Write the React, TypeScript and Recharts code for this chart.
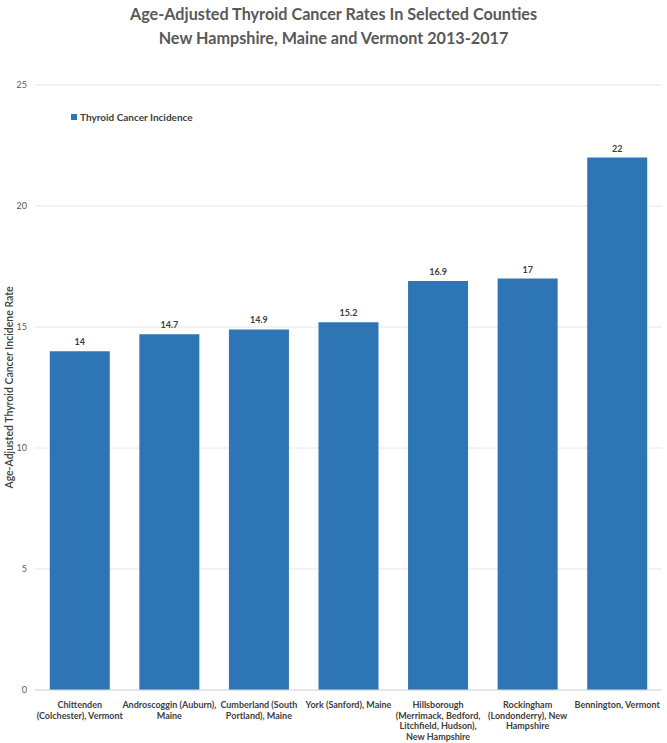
import { BarChart, Bar, XAxis, YAxis, CartesianGrid, LabelList, Legend } from "recharts";

const counties = [
  "Chittenden (Colchester), Vermont",
  "Androscoggin (Auburn), Maine",
  "Cumberland (South Portland), Maine",
  "York (Sanford), Maine",
  "Hillsborough (Merrimack, Bedford, Litchfield, Hudson), New Hampshire",
  "Rockingham (Londonderry), New Hampshire",
  "Bennington, Vermont",
];
const incidence = [14, 14.7, 14.9, 15.2, 16.9, 17, 22];
const yTicks = [0, 5, 10, 15, 20, 25];

const titleLines = [
  "Age-Adjusted Thyroid Cancer Rates In Selected Counties",
  "New Hampshire, Maine and Vermont 2013-2017",
];
const seriesName = "Thyroid Cancer Incidence";
const yLabel = "Age-Adjusted Thyroid Cancer Incidene Rate";

const data = counties.map((name, i) => ({ name, value: incidence[i] }));

const FONT = "Lato, 'Open Sans', sans-serif";
const BAR = "#2E75B6";

// rough word wrap by character count, the labels are short enough for that
function wrap(text: string, max = 22): string[] {
  const lines: string[] = [];
  let cur = "";
  for (const w of text.split(" ")) {
    const next = cur ? cur + " " + w : w;
    if (next.length > max && cur) {
      lines.push(cur);
      cur = w;
    } else {
      cur = next;
    }
  }
  if (cur) lines.push(cur);
  return lines;
}

function CountyTick({ x, y, payload }: any) {
  const lines = wrap(String(payload.value));
  return (
    <text x={x} y={y + 10} textAnchor="middle" fontSize={9} fontWeight="bold" fill="#404040" fontFamily={FONT}>
      {lines.map((l, i) => (
        <tspan key={i} x={x} dy={i === 0 ? 0 : 10.5}>
          {l}
        </tspan>
      ))}
    </text>
  );
}

function LegendBox() {
  return (
    <div style={{ display: "flex", alignItems: "center", fontFamily: FONT, fontSize: 10, fontWeight: "bold", color: "#404040" }}>
      <span style={{ display: "inline-block", width: 6, height: 6, background: BAR, marginRight: 3 }} />
      {seriesName}
    </div>
  );
}

export default function App() {
  return (
    <div style={{ position: "absolute", left: 0, top: 0, width: 667, height: 743, background: "#fff" }}>
      <div
        style={{
          position: "absolute",
          top: 2,
          left: 0,
          width: 667,
          textAlign: "center",
          fontFamily: FONT,
          fontWeight: "bold",
          fontSize: 16.2,
          lineHeight: "24px",
          color: "#595959",
        }}
      >
        {titleLines.map((t) => (
          <div key={t}>{t}</div>
        ))}
      </div>
      <BarChart
        width={667}
        height={743}
        data={data}
        margin={{ top: 73, right: 5, bottom: 0, left: 0 }}
        barCategoryGap="16.5%"
      >
        <CartesianGrid vertical={false} stroke="#e6e6e6" />
        <XAxis
          dataKey="name"
          interval={0}
          height={53}
          tickLine={false}
          axisLine={{ stroke: "#d9d9d9" }}
          tick={<CountyTick />}
        />
        <YAxis
          width={35}
          domain={[0, 25]}
          ticks={yTicks}
          tickLine={false}
          axisLine={false}
          tick={{ fontSize: 9, fill: "#595959", fontFamily: FONT }}
          label={{
            value: yLabel,
            angle: -90,
            position: "insideLeft",
            offset: 0,
            dx: 9,
            style: { textAnchor: "middle", fontSize: 10.5, fill: "#404040", fontFamily: FONT, fontWeight: 600 },
          }}
        />
        <Legend
          verticalAlign="top"
          align="left"
          content={<LegendBox />}
          wrapperStyle={{ position: "absolute", top: 111, left: 71, width: "auto" }}
        />
        <Bar dataKey="value" name={seriesName} fill={BAR} isAnimationActive={false}>
          <LabelList dataKey="value" position="top" offset={6} fontSize={9} fontWeight="bold" fill="#404040" fontFamily={FONT} />
        </Bar>
      </BarChart>
    </div>
  );
}
